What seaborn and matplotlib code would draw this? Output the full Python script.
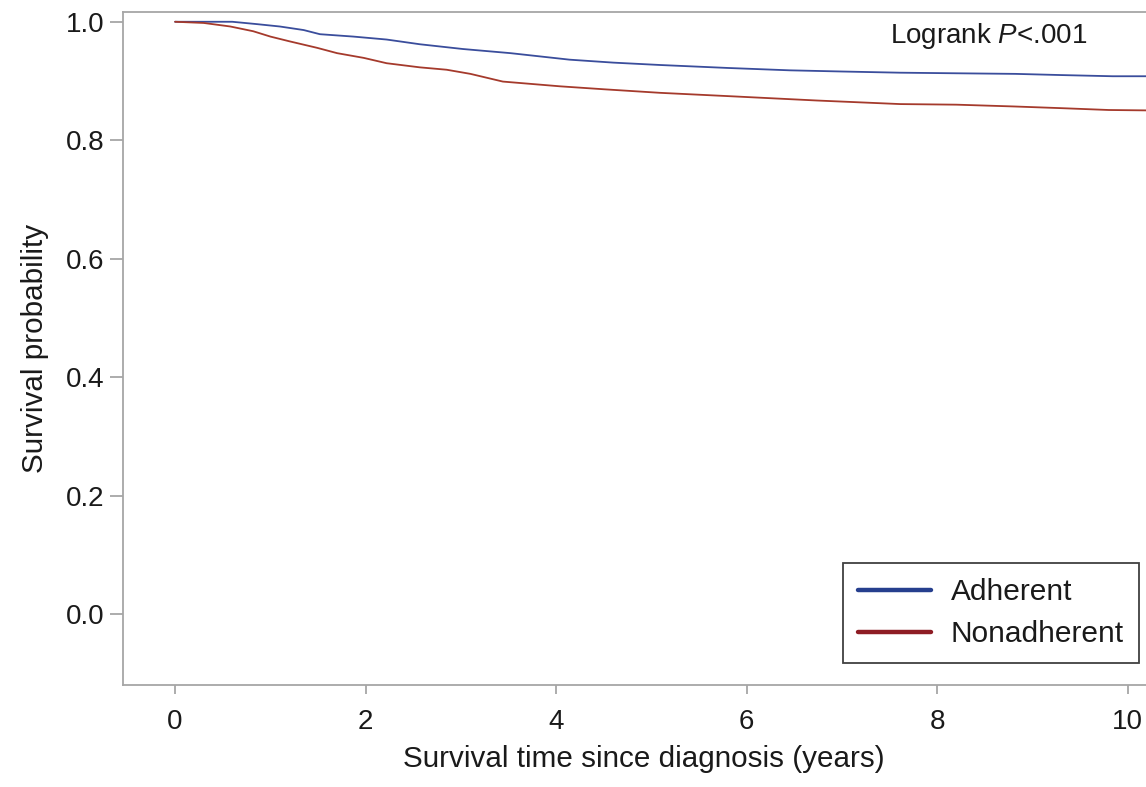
import numpy as np
import pandas as pd
import matplotlib
matplotlib.use("Agg")
import matplotlib.pyplot as plt
from matplotlib.lines import Line2D
import seaborn as sns

# ---- data ----
adherent_time = [0.0, 0.6, 0.86, 1.1, 1.35, 1.52, 1.87, 2.22, 2.57, 3.02, 3.52, 4.14,
                 4.6, 5.09, 5.8, 6.45, 7.0, 7.61, 8.2, 8.82, 9.3, 9.84, 10.4]
adherent_surv = [1.000, 1.000, 0.996, 0.992, 0.986, 0.979, 0.975, 0.970, 0.962, 0.954,
                 0.947, 0.936, 0.931, 0.927, 0.922, 0.918, 0.916, 0.914, 0.913, 0.912,
                 0.910, 0.908, 0.908]
nonadherent_time = [0.0, 0.3, 0.58, 0.82, 1.0, 1.2, 1.49, 1.7, 1.98, 2.22, 2.57, 2.85,
                    3.1, 3.44, 4.04, 4.5, 5.09, 5.86, 6.74, 7.61, 8.2, 8.8, 9.32, 9.8, 10.4]
nonadherent_surv = [1.000, 0.998, 0.992, 0.984, 0.975, 0.967, 0.956, 0.947, 0.939, 0.930,
                    0.923, 0.919, 0.912, 0.899, 0.891, 0.886, 0.880, 0.874, 0.867, 0.861,
                    0.860, 0.857, 0.854, 0.851, 0.850]
groups = ["Adherent", "Nonadherent"]
x_ticks = [0, 2, 4, 6, 8, 10]
y_ticks = [0.0, 0.2, 0.4, 0.6, 0.8, 1.0]

df = pd.concat([
    pd.DataFrame({"time": adherent_time, "surv": adherent_surv, "group": groups[0]}),
    pd.DataFrame({"time": nonadherent_time, "surv": nonadherent_surv, "group": groups[1]}),
], ignore_index=True)

sns.set_theme(style="white")
plt.rcParams["font.family"] = ["Liberation Sans", "DejaVu Sans"]
plt.rcParams["mathtext.fontset"] = "custom"
plt.rcParams["mathtext.rm"] = "Liberation Sans"
plt.rcParams["mathtext.it"] = "Liberation Sans:italic"

line_colors = {"Adherent": "#3a4d9c", "Nonadherent": "#a53a2c"}
legend_colors = {"Adherent": "#263f8e", "Nonadherent": "#8e1c24"}

fig = plt.figure(figsize=(11.46, 7.87), dpi=100)
W, H = 1146, 787
left, right, top, bottom = 122.7, 1165, 11.7, 685
ax = fig.add_axes([left / W, 1 - bottom / H, (right - left) / W, (bottom - top) / H])

sns.lineplot(data=df, x="time", y="surv", hue="group", palette=line_colors,
             estimator=None, linewidth=1.3, ax=ax, legend=False)

ax.set_xlim(-0.55, 10.39)
ax.set_ylim(-0.12, 1.017)
ax.set_xticks(x_ticks)
ax.set_xticklabels([str(t) for t in x_ticks])
ax.set_yticks(y_ticks)
ax.set_yticklabels([f"{t:.1f}" for t in y_ticks])

spine_c = "#a6a6a6"
for s in ["left", "bottom", "top"]:
    ax.spines[s].set_color(spine_c)
    ax.spines[s].set_linewidth(1.3)
ax.spines["right"].set_visible(False)

ax.tick_params(axis="both", which="major", direction="out", colors=spine_c,
               labelcolor="#1a1a1a", labelsize=20, width=1.3)
ax.tick_params(axis="y", length=9.5, pad=3.5, left=True)
ax.tick_params(axis="x", length=6.5, pad=11, bottom=True)

ax.set_xlabel("Survival time since diagnosis (years)", fontsize=21.3, color="#1a1a1a", labelpad=7)
ax.set_ylabel("Survival probability", fontsize=21.3, color="#1a1a1a", labelpad=12)

ax.text(9.58, 0.9645, r"Logrank $\mathit{P}$<.001", ha="right", va="baseline",
        fontsize=20, color="#1a1a1a")

handles = [Line2D([0], [0], color=legend_colors[g], linewidth=3.2) for g in groups]
leg = ax.legend(handles, groups, loc="lower right",
                bbox_to_anchor=(1139 / W, 1 - 663 / H), bbox_transform=fig.transFigure,
                fontsize=21.5, frameon=True, fancybox=False, handlelength=2.44,
                handletextpad=0.67, borderpad=0.5, labelspacing=0.46, borderaxespad=0)
leg.get_frame().set_edgecolor("#111111")
leg.get_frame().set_linewidth(1.3)
for t in leg.get_texts():
    t.set_color("#1a1a1a")

fig.savefig("out.png", dpi=100)
